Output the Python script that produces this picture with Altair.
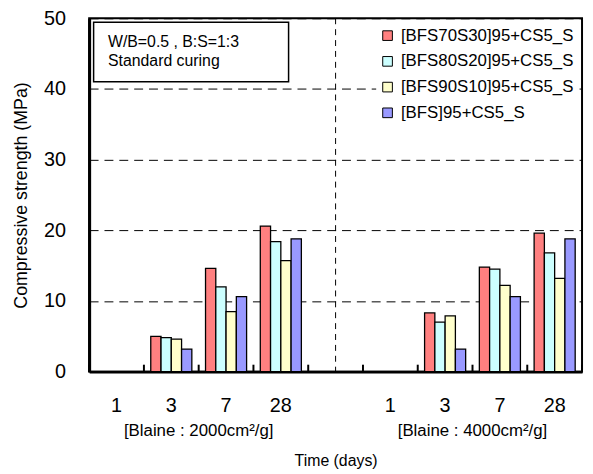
import altair as alt
import pandas as pd

FONT = "Liberation Sans"

series = ["[BFS70S30]95+CS5_S", "[BFS80S20]95+CS5_S", "[BFS90S10]95+CS5_S", "[BFS]95+CS5_S"]
colors = ["#FF8080", "#CCFFFF", "#FFFFCC", "#9999FF"]
days = ["1", "3", "7", "28"]
groups = ["2000", "4000"]
group_labels = ["[Blaine : 2000cm²/g]", "[Blaine : 4000cm²/g]"]
note_lines = ["W/B=0.5 , B:S=1:3", "Standard curing"]

# Compressive strength (MPa) for days 1, 3, 7, 28 (None = no bar)
blaine2000_70s30 = [None, 5.0, 14.6, 20.6]
blaine2000_80s20 = [None, 4.8, 12.0, 18.4]
blaine2000_90s10 = [None, 4.6, 8.5, 15.7]
blaine2000_bfs = [None, 3.2, 10.6, 18.8]

blaine4000_70s30 = [None, 8.3, 14.8, 19.6]
blaine4000_80s20 = [None, 7.0, 14.5, 16.8]
blaine4000_90s10 = [None, 7.9, 12.2, 13.2]
blaine4000_bfs = [None, 3.2, 10.6, 18.8]

values = {
    "2000": [blaine2000_70s30, blaine2000_80s20, blaine2000_90s10, blaine2000_bfs],
    "4000": [blaine4000_70s30, blaine4000_80s20, blaine4000_90s10, blaine4000_bfs],
}

slots = [f"{groups[0]}|{d}" for d in days] + ["gap"] + [f"{groups[1]}|{d}" for d in days]

rows = []
for g in groups:
    for s, vals in zip(series, values[g]):
        for d, v in zip(days, vals):
            if v is not None:
                rows.append({"slot": f"{g}|{d}", "series": s, "value": v})
df = pd.DataFrame(rows)

W, H = 498, 357
NSLOT = len(slots)
qx = alt.Scale(domain=[0, NSLOT], nice=False, zero=False)

bars = alt.Chart(df).mark_bar(stroke="black", strokeWidth=1.3).encode(
    x=alt.X(
        "slot:N",
        sort=slots,
        scale=alt.Scale(domain=slots, paddingInner=0.25, paddingOuter=0.125),
        axis=alt.Axis(
            labelExpr="indexof(datum.value, '|') >= 0 ? split(datum.value, '|')[1] : ''",
            labelAngle=0, labelFontSize=20, labelFont=FONT, labelColor="black",
            labelPadding=24, ticks=False, tickSize=0, domain=True, domainColor="black",
            domainWidth=3, title="Time (days)", titleFont=FONT, titleFontSize=16,
            titleFontWeight="normal", titleColor="black", titlePadding=38,
        ),
    ),
    xOffset=alt.XOffset("series:N", sort=series,
                        scale=alt.Scale(domain=series, paddingInner=0, paddingOuter=0)),
    y=alt.Y(
        "value:Q",
        scale=alt.Scale(domain=[0, 50], nice=False, zero=True),
        axis=alt.Axis(
            values=[0, 10, 20, 30, 40, 50], labelFontSize=20, labelFont=FONT,
            labelColor="black", labelPadding=24, ticks=False, tickSize=0,
            domain=True, domainColor="black", domainWidth=3,
            grid=True, gridColor="black", gridDash=[9, 6], gridWidth=1, gridOpacity=1,
            title="Compressive strength (MPa)", titleFont=FONT, titleFontSize=18,
            titleFontWeight="normal", titleColor="black", titlePadding=13,
        ),
    ),
    color=alt.Color(
        "series:N", sort=series,
        scale=alt.Scale(domain=series, range=colors),
        legend=alt.Legend(
            title=None, orient="none", legendX=290, legendY=6, padding=3,
            fillColor="white", symbolType="square", symbolSize=95,
            symbolStrokeColor="black", symbolStrokeWidth=1, symbolOpacity=1,
            labelFont=FONT, labelFontSize=17, labelColor="black", labelOffset=5,
            rowPadding=8, labelLimit=400,
        ),
    ),
)

bounds_df = pd.DataFrame({"b": list(range(NSLOT + 1))})
ticks = alt.Chart(bounds_df).mark_rule(color="black", strokeWidth=2).encode(
    x=alt.X("b:Q", scale=qx, axis=None),
    y=alt.value(H),
    y2=alt.value(H - 7),
)

mid_df = pd.DataFrame({"b": [NSLOT / 2]})
vline = alt.Chart(mid_df).mark_rule(color="black", strokeWidth=1, strokeDash=[6, 5]).encode(
    x=alt.X("b:Q", scale=qx, axis=None),
    y=alt.value(0),
    y2=alt.value(H),
)

box = alt.Chart(mid_df).mark_rect(fill="white", stroke="black", strokeWidth=1.5).encode(
    x=alt.value(4.5), x2=alt.value(201.5), y=alt.value(4), y2=alt.value(64),
)
box_text = alt.Chart(mid_df).mark_text(
    align="left", baseline="top", font=FONT, fontSize=16, color="black", lineHeight=19.5
).encode(
    x=alt.value(19), y=alt.value(16), text=alt.value(note_lines),
)

glab_df = pd.DataFrame({"b": [2.0, 7.0], "label": group_labels})
glabels = alt.Chart(glab_df).mark_text(
    align="center", baseline="alphabetic", font=FONT, fontSize=17, color="black"
).encode(
    x=alt.X("b:Q", scale=qx, axis=None),
    y=alt.value(422),
    text="label:N",
)

chart = alt.layer(vline, bars, ticks, box, box_text, glabels).resolve_scale(
    x="independent"
).properties(
    width=W, height=H,
    padding={"left": 82, "top": 8, "right": 3, "bottom": 99},
    autosize=alt.AutoSizeParams(type="none"),
).configure(font=FONT).configure_view(stroke="black", strokeWidth=2)

chart.save("out.html", embed_options={"renderer": "svg", "actions": False})
